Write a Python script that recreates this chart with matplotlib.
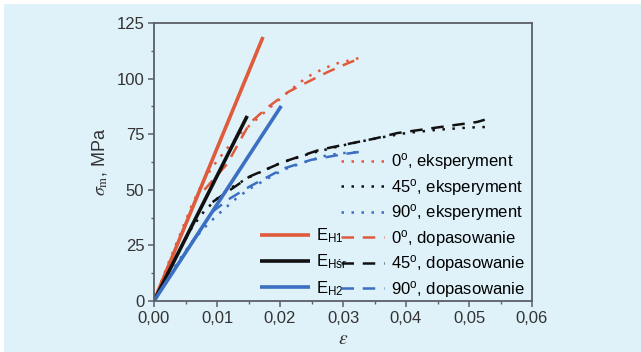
import matplotlib
matplotlib.use("Agg")
import matplotlib.pyplot as plt
from matplotlib.patches import Rectangle
from matplotlib.ticker import MultipleLocator, FuncFormatter

plt.rcParams['font.family'] = ['Liberation Sans', 'DejaVu Sans']
plt.rcParams['mathtext.fontset'] = 'custom'
plt.rcParams['mathtext.rm'] = 'Liberation Sans'
plt.rcParams['mathtext.it'] = 'Liberation Sans:italic'

# --- data ---
# experiment, 0 deg
exp0_x = [0, 0.002, 0.004, 0.006, 0.008, 0.010, 0.012, 0.014, 0.016, 0.018, 0.0211,
          0.023, 0.0249, 0.0268, 0.0287, 0.0306, 0.0325, 0.033]
exp0_y = [0, 15, 29, 43, 55, 63, 70, 76, 81, 86, 93.5, 98, 101.6, 104.3, 106.6, 107.9, 109.2, 109.5]
# fit, 0 deg
fit0_x = [0.008, 0.0116, 0.0152, 0.018, 0.0213, 0.0244, 0.0276, 0.030, 0.033]
fit0_y = [50, 61.6, 80, 87, 94, 98.5, 103, 106, 109.5]

# experiment, 45 deg
exp45_x = [0, 0.002, 0.004, 0.006, 0.008, 0.010, 0.012, 0.015, 0.020, 0.025, 0.030,
           0.035, 0.040, 0.045, 0.050, 0.0535]
exp45_y = [0, 11.5, 22.5, 33, 40.5, 46, 50.5, 55.5, 62, 66.5, 70, 73, 75.5, 77, 78, 78.3]
# fit, 45 deg
fit45_x = [0.0093, 0.0152, 0.0205, 0.0263, 0.0306, 0.035, 0.0386, 0.0454, 0.0513, 0.0525]
fit45_y = [44.5, 56, 62.5, 68, 70.5, 73, 75.5, 78.2, 80.5, 81.5]

# experiment, 90 deg
exp90_x = [0, 0.002, 0.004, 0.006, 0.008, 0.010, 0.013, 0.0152, 0.018, 0.0205, 0.024,
           0.0274, 0.030, 0.0325]
exp90_y = [0, 9.5, 18.5, 26.5, 33, 38.5, 46, 50.5, 55, 59, 62.5, 65.5, 66.5, 67]
# fit, 90 deg
fit90_x = [0.0092, 0.012, 0.0152, 0.0205, 0.025, 0.030, 0.0325]
fit90_y = [40, 46, 51.5, 59.5, 63.5, 66, 67]

# elastic moduli lines
eh1_x, eh1_y = [0, 0.0173], [0, 118.7]
ehsr_x, ehsr_y = [0, 0.0148], [0, 83.2]
eh2_x, eh2_y = [0, 0.0202], [0, 87.7]

red = '#e05a3c'
black = '#111111'
blue = '#3b6fc2'
bg = '#dff2fa'
spine = '#5a6066'

fig = plt.figure(figsize=(6.41, 3.52), dpi=100)
fig.patch.set_facecolor('white')
fig.patches.append(Rectangle((4 / 641, 0), 1, 1 - 4 / 352, transform=fig.transFigure,
                             facecolor=bg, edgecolor='none', zorder=-10))

ax = fig.add_axes([154 / 641, 1 - 301 / 352, 378 / 641, 278 / 352])
ax.set_facecolor(bg)

dot = (0, (1, 3))
dash = (0, (5, 3.5))

l1, = ax.plot(exp0_x, exp0_y, color=red, lw=1.8, ls=dot)
l2, = ax.plot(exp45_x, exp45_y, color=black, lw=1.8, ls=dot)
l3, = ax.plot(exp90_x, exp90_y, color=blue, lw=1.8, ls=dot)
l4, = ax.plot(fit0_x, fit0_y, color=red, lw=1.8, ls=dash)
l5, = ax.plot(fit45_x, fit45_y, color=black, lw=1.8, ls=dash)
l6, = ax.plot(fit90_x, fit90_y, color=blue, lw=1.8, ls=dash)

e1, = ax.plot(eh1_x, eh1_y, color=red, lw=2.6, solid_capstyle='butt')
e2, = ax.plot(ehsr_x, ehsr_y, color=black, lw=2.6, solid_capstyle='butt')
e3, = ax.plot(eh2_x, eh2_y, color=blue, lw=2.6, solid_capstyle='butt')

ax.set_xlim(0, 0.06)
ax.set_ylim(0, 125)
ax.xaxis.set_major_locator(MultipleLocator(0.01))
ax.xaxis.set_minor_locator(MultipleLocator(0.005))
ax.yaxis.set_major_locator(MultipleLocator(25))
ax.yaxis.set_minor_locator(MultipleLocator(12.5))
ax.xaxis.set_major_formatter(FuncFormatter(lambda v, p: f'{v:.2f}'.replace('.', ',')))

for s in ax.spines.values():
    s.set_color(spine)
    s.set_linewidth(1.3)
ax.tick_params(which='major', length=4, width=1.1, color=spine, labelsize=12,
               labelcolor='#333333', pad=3)
ax.tick_params(which='minor', length=2.5, width=1.0, color=spine)

ax.set_xlabel(r'$\varepsilon$', fontsize=14, color='#333333', labelpad=4,
              math_fontfamily='stix')
ax.set_ylabel(r'$\sigma_{\mathrm{m}}$, MPa', fontsize=13, color='#333333', labelpad=5,
              math_fontfamily='stix')

leg1 = ax.legend([e1, e2, e3], [r'E$_{\mathrm{H1}}$', r'E$_{\mathrm{Hśr}}$', r'E$_{\mathrm{H2}}$'],
                 loc='lower left', bbox_to_anchor=(0.272, 0.0), frameon=False,
                 fontsize=12, handlelength=3.0, handletextpad=0.35, labelspacing=0.45,
                 borderpad=0.2, borderaxespad=0)
ax.add_artist(leg1)
ax.legend([l1, l2, l3, l4, l5, l6],
          [r'0$^{\mathrm{o}}$, eksperyment', r'45$^{\mathrm{o}}$, eksperyment',
           r'90$^{\mathrm{o}}$, eksperyment', r'0$^{\mathrm{o}}$, dopasowanie',
           r'45$^{\mathrm{o}}$, dopasowanie', r'90$^{\mathrm{o}}$, dopasowanie'],
          loc='lower left', bbox_to_anchor=(0.485, -0.007), frameon=False,
          fontsize=12, handlelength=2.6, handletextpad=0.4, labelspacing=0.27,
          borderpad=0.2, borderaxespad=0)

fig.savefig('out.png', dpi=100, facecolor=fig.get_facecolor())
